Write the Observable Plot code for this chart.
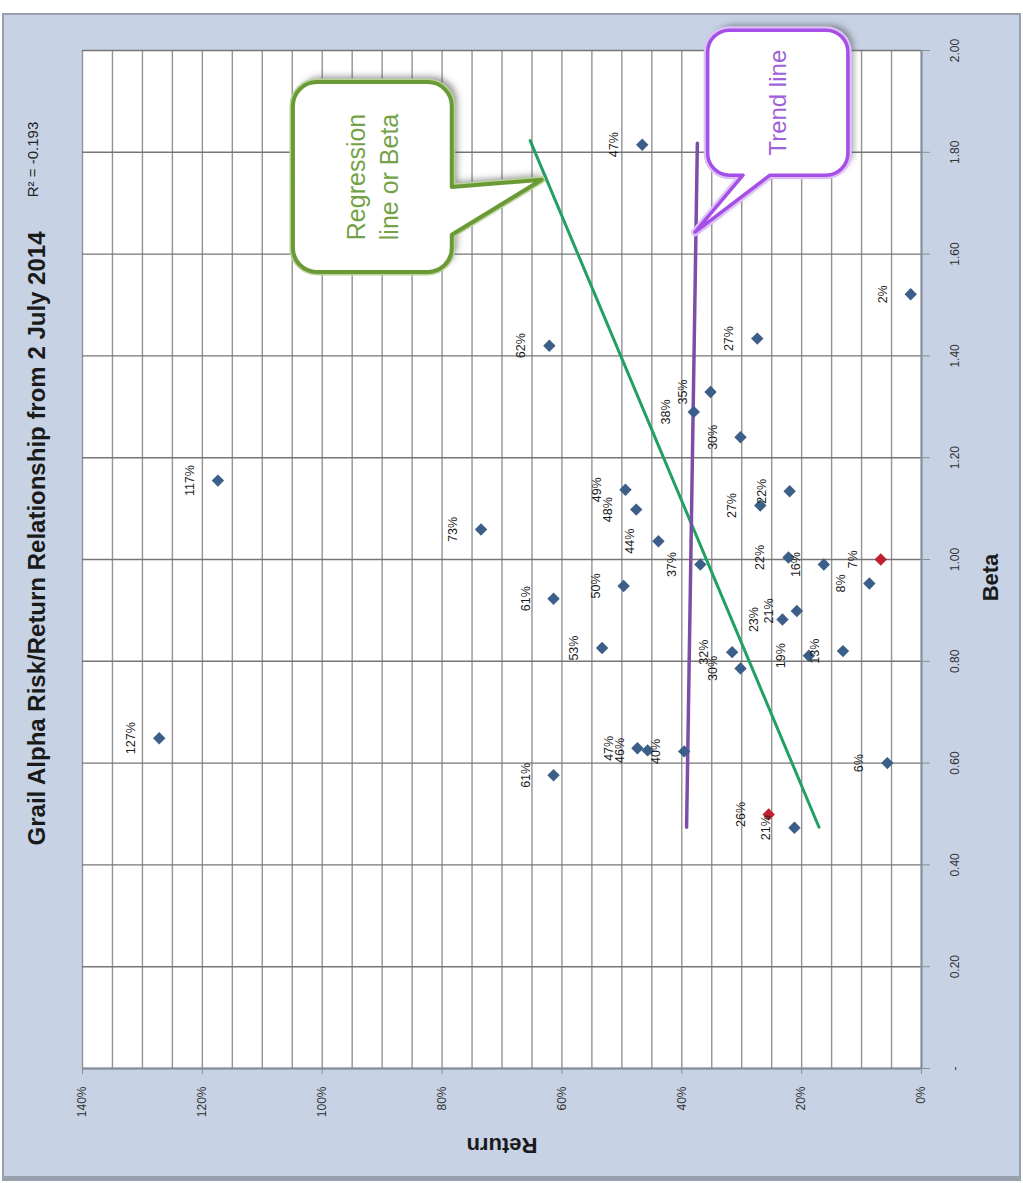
<!DOCTYPE html>
<html>
<head>
<meta charset="utf-8">
<script src="https://cdn.jsdelivr.net/npm/d3@7"></script>
<script src="https://cdn.jsdelivr.net/npm/@observablehq/plot@0.6"></script>
<style>
  html, body { margin: 0; padding: 0; background: #ffffff; }
  #wrap { position: relative; width: 1023px; height: 1183px; overflow: hidden; }
  #bg { position: absolute; left: 2px; top: 13px; width: 1019px; height: 1168px;
        background: #c7d3e5; border: 2px solid #97a1ad; border-bottom-width: 5px; box-sizing: border-box; }
  #chart { position: absolute; left: 0; top: 0; }
</style>
</head>
<body>
<div id="wrap"><div id="bg"></div><div id="chart"></div></div>
<script>
// ---------------- data ----------------
const chartTitle = "Grail Alpha Risk/Return Relationship from 2 July 2014";
const rSquaredText = "R² = -0.193";
const xTitle = "Beta";
const yTitle = "Return";

const pointLabel  = ["127%","117%","73%","62%","61%","61%","53%","50%","49%","48%","47%","47%","46%","44%","40%","38%","37%","35%","32%","30%","30%","27%","27%","26%","23%","22%","22%","21%","21%","19%","16%","13%","8%","7%","6%","2%"];
const pointReturn = [1.272,1.174,0.735,0.621,0.614,0.614,0.533,0.497,0.494,0.476,0.466,0.474,0.457,0.439,0.396,0.380,0.369,0.352,0.316,0.302,0.302,0.274,0.269,0.255,0.232,0.220,0.222,0.208,0.212,0.188,0.163,0.131,0.087,0.068,0.057,0.018];
const pointBeta   = [0.649,1.155,1.059,1.420,0.923,0.576,0.826,0.948,1.137,1.098,1.815,0.629,0.625,1.036,0.623,1.290,0.990,1.329,0.818,0.786,1.240,1.434,1.106,0.499,0.882,1.134,1.004,0.899,0.473,0.811,0.990,0.820,0.953,1.000,0.600,1.521];
const pointGroup  = ["Fund","Fund","Fund","Fund","Fund","Fund","Fund","Fund","Fund","Fund","Fund","Fund","Fund","Fund","Fund","Fund","Fund","Fund","Fund","Fund","Fund","Fund","Fund","Highlighted","Fund","Fund","Fund","Fund","Fund","Fund","Fund","Fund","Fund","Highlighted","Fund","Fund"];

const regressionReturn = [0.653, 0.171];
const regressionBeta   = [1.823, 0.474];
const trendReturn = [0.374, 0.392];
const trendBeta   = [1.818, 0.474];

const returnTicks = [0, 0.2, 0.4, 0.6, 0.8, 1.0, 1.2, 1.4];
const returnTickLabels = ["0%","20%","40%","60%","80%","100%","120%","140%"];
const betaTicks = [0, 0.2, 0.4, 0.6, 0.8, 1.0, 1.2, 1.4, 1.6, 1.8, 2.0];
const betaTickLabels = ["-","0.20","0.40","0.60","0.80","1.00","1.20","1.40","1.60","1.80","2.00"];
const returnGrid = d3.range(0, 29).map(i => +(i * 0.05).toFixed(2));

// callout annotations (data coordinates: return, beta)
const regressionCalloutText = ["Regression", "line or Beta"];
const regressionCalloutReturn = [1.048, 0.783];      // box left / right
const regressionCalloutBeta   = [1.937, 1.564];      // box top / bottom
const regressionCalloutTip    = [0.633, 1.745];      // return, beta
const regressionCalloutBase   = [1.731, 1.637];      // beta along right edge
const trendCalloutText = ["Trend line"];
const trendCalloutReturn = [0.356, 0.122];
const trendCalloutBeta   = [2.039, 1.754];
const trendCalloutTip    = [0.377, 1.642];
const trendCalloutBase   = [0.297, 0.252];           // return along bottom edge

// ---------------- build ----------------
const FONT = "'Liberation Sans', Arial, sans-serif";
const points = pointLabel.map((label, i) => ({label, ret: pointReturn[i], beta: pointBeta[i], group: pointGroup[i]}));
const regression = regressionReturn.map((r, i) => ({ret: r, beta: regressionBeta[i]}));
const trend = trendReturn.map((r, i) => ({ret: r, beta: trendBeta[i]}));

const chart = Plot.plot({
  width: 1023,
  height: 1183,
  marginLeft: 82, marginRight: 102, marginTop: 50, marginBottom: 115,
  style: {background: "transparent", fontFamily: FONT, overflow: "visible"},
  x: {domain: [1.4, 0], axis: null},
  y: {domain: [0, 2], axis: null},
  color: {domain: ["Fund", "Highlighted"], range: ["#3b5f88", "#c0202f"]},
  marks: [
    Plot.frame({fill: "white", stroke: null}),
    Plot.ruleX(returnGrid, {stroke: "#939393", strokeWidth: 1.4}),
    Plot.ruleY(betaTicks, {stroke: "#767676", strokeWidth: 1.4}),
    Plot.ruleX([0], {stroke: "#86909c", strokeWidth: 2}),
    Plot.ruleY([0], {stroke: "#86909c", strokeWidth: 2}),
    Plot.axisX({ticks: returnTicks, anchor: "bottom", tickSize: 6, tickFormat: () => "", stroke: "#86909c", label: null}),
    Plot.axisY({ticks: betaTicks, anchor: "right", tickSize: 8, tickFormat: () => "", stroke: "#86909c", label: null}),
    Plot.text(returnTicks, {x: d => d, text: (d, i) => returnTickLabels[i], frameAnchor: "bottom", dy: 18,
      rotate: -90, textAnchor: "end", lineAnchor: "middle", fontSize: 12, fill: "#333"}),
    Plot.text(betaTicks, {y: d => d, text: (d, i) => betaTickLabels[i], frameAnchor: "right", dx: 34,
      rotate: -90, textAnchor: "middle", lineAnchor: "middle", fontSize: 12, fill: "#333"}),
    Plot.line(regression, {x: "ret", y: "beta", stroke: "#21a063", strokeWidth: 3}),
    Plot.line(trend, {x: "ret", y: "beta", stroke: "#7d4ea8", strokeWidth: 3.5}),
    Plot.dot(points, {x: "ret", y: "beta", fill: "group", symbol: "diamond2", r: 5.6}),
    Plot.text(points, {x: "ret", y: "beta", text: "label", rotate: -90, dx: -28, fontSize: 12.5, fill: "#1a1a1a", lineAnchor: "middle"}),
    Plot.text([chartTitle], {frameAnchor: "left", dx: -45, dy: -21, rotate: -90, textAnchor: "middle", fontSize: 24, fontWeight: "bold", fill: "#1a1a1a", lineAnchor: "middle"}),
    Plot.text([rSquaredText], {frameAnchor: "top-left", dx: -49, dy: 109, rotate: -90, textAnchor: "middle", fontSize: 15, fill: "#222", lineAnchor: "middle"}),
    Plot.text([yTitle], {frameAnchor: "bottom", dy: 77, rotate: 180, textAnchor: "middle", fontSize: 22, fontWeight: "bold", fill: "#1a1a1a", lineAnchor: "middle"}),
    Plot.text([xTitle], {frameAnchor: "right", dx: 69, dy: 18, rotate: -90, textAnchor: "middle", fontSize: 22, fontWeight: "bold", fill: "#1a1a1a", lineAnchor: "middle"})
  ]
});

document.getElementById("chart").appendChild(chart);

// ---------------- callouts (positioned with the plot's scales) ----------------
const sx = chart.scale("x"), sy = chart.scale("y");
const X = v => sx.apply(v), Y = v => sy.apply(v);
const svg = d3.select(chart);
const defs = svg.append("defs");
const f = defs.append("filter").attr("id", "callShadow").attr("x", "-30%").attr("y", "-30%").attr("width", "160%").attr("height", "160%");
f.append("feDropShadow").attr("dx", 5).attr("dy", -5).attr("stdDeviation", 3.5).attr("flood-color", "#444").attr("flood-opacity", 0.6);

function pathRightTail(x0, x1, y0, y1, r, a, b, tx, ty) {
  return `M${x0 + r},${y0} H${x1 - r} A${r},${r} 0 0 1 ${x1},${y0 + r} V${a} L${tx},${ty} L${x1},${b} ` +
         `V${y1 - r} A${r},${r} 0 0 1 ${x1 - r},${y1} H${x0 + r} A${r},${r} 0 0 1 ${x0},${y1 - r} ` +
         `V${y0 + r} A${r},${r} 0 0 1 ${x0 + r},${y0} Z`;
}
function pathBottomTail(x0, x1, y0, y1, r, a, b, tx, ty) {
  return `M${x0 + r},${y0} H${x1 - r} A${r},${r} 0 0 1 ${x1},${y0 + r} V${y1 - r} A${r},${r} 0 0 1 ${x1 - r},${y1} ` +
         `H${b} L${tx},${ty} L${a},${y1} H${x0 + r} A${r},${r} 0 0 1 ${x0},${y1 - r} ` +
         `V${y0 + r} A${r},${r} 0 0 1 ${x0 + r},${y0} Z`;
}

// regression callout
{
  const x0 = X(regressionCalloutReturn[0]), x1 = X(regressionCalloutReturn[1]);
  const y0 = Y(regressionCalloutBeta[0]), y1 = Y(regressionCalloutBeta[1]);
  const a = Y(regressionCalloutBase[0]), b = Y(regressionCalloutBase[1]);
  const tx = X(regressionCalloutTip[0]), ty = Y(regressionCalloutTip[1]);
  const d = pathRightTail(x0, x1, y0, y1, 24, a, b, tx, ty);
  const g = svg.append("g");
  g.append("path").attr("d", d).attr("fill", "white").attr("filter", "url(#callShadow)");
  g.append("path").attr("d", d).attr("fill", "white").attr("stroke", "#b9d39a").attr("stroke-width", 7).attr("stroke-linejoin", "round");
  g.append("path").attr("d", d).attr("fill", "white").attr("stroke", "#6a9a36").attr("stroke-width", 4).attr("stroke-linejoin", "round");
  const cx = (x0 + x1) / 2, cy = (y0 + y1) / 2;
  const t = g.append("text").attr("transform", `translate(${cx},${cy}) rotate(-90)`)
    .attr("text-anchor", "middle").attr("font-family", FONT).attr("font-size", 25).attr("fill", "#76a247");
  regressionCalloutText.forEach((s, i) => {
    t.append("tspan").attr("x", 0).attr("y", (i - (regressionCalloutText.length - 1) / 2) * 33).attr("dy", "0.35em").text(s);
  });
}
// trend callout
{
  const x0 = X(trendCalloutReturn[0]), x1 = X(trendCalloutReturn[1]);
  const y0 = Y(trendCalloutBeta[0]), y1 = Y(trendCalloutBeta[1]);
  const a = X(trendCalloutBase[0]), b = X(trendCalloutBase[1]);
  const tx = X(trendCalloutTip[0]), ty = Y(trendCalloutTip[1]);
  const d = pathBottomTail(x0, x1, y0, y1, 22, a, b, tx, ty);
  const g = svg.append("g");
  g.append("path").attr("d", d).attr("fill", "white").attr("filter", "url(#callShadow)");
  g.append("path").attr("d", d).attr("fill", "white").attr("stroke", "#dcc0f6").attr("stroke-width", 8).attr("stroke-linejoin", "round");
  g.append("path").attr("d", d).attr("fill", "white").attr("stroke", "#a64fe8").attr("stroke-width", 3.5).attr("stroke-linejoin", "round");
  const cx = (x0 + x1) / 2, cy = (y0 + y1) / 2;
  g.append("text").attr("transform", `translate(${cx},${cy}) rotate(-90)`)
    .attr("text-anchor", "middle").attr("dy", "0.35em").attr("font-family", FONT).attr("font-size", 24).attr("fill", "#9d62da")
    .text(trendCalloutText[0]);
}
</script>
</body>
</html>
